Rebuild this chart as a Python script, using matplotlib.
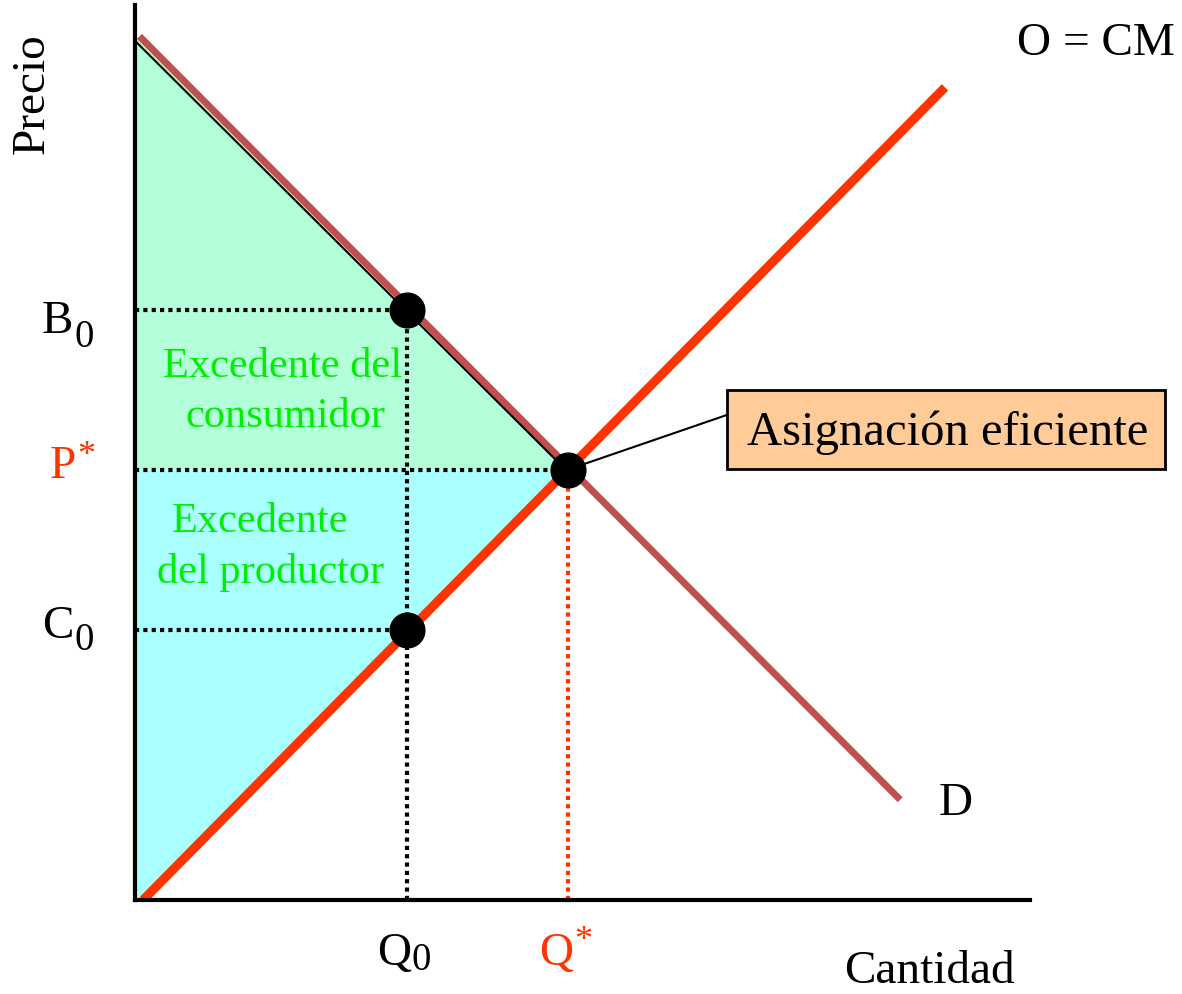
import matplotlib.pyplot as plt
from matplotlib.patches import Polygon, Rectangle

plt.rcParams['font.family'] = ['Liberation Serif', 'DejaVu Serif']

# curve endpoints (quantity, price) on a 0-100 scale
demand_q = [0.5, 85.5]
demand_p = [96.5, 11.2]
supply_q = [0.9, 90.5]
supply_p = [0.0, 90.8]

# key values
q0 = 30.4
q_star = 48.4
p_star = 48.1
b0 = 65.9
c0 = 30.2

red = '#FF3300'
brown = '#C0504D'
green_txt = '#00EE00'

fig = plt.figure(figsize=(11.82, 9.94), dpi=100)
ax = fig.add_axes([135 / 1182, 94 / 994, 895 / 1182, 895 / 994])
ax.set_xlim(0, 100)
ax.set_ylim(0, 100)
for s in ['top', 'right']:
    ax.spines[s].set_visible(False)
for s in ['left', 'bottom']:
    ax.spines[s].set_linewidth(3)
    ax.spines[s].set_zorder(10)
ax.set_xticks([])
ax.set_yticks([])

# surplus areas
cons = Polygon([(0, demand_p[0]), (q_star, p_star), (0, p_star)],
               closed=True, facecolor='#B3FFD9', edgecolor='none', zorder=1)
prod = Polygon([(0, p_star), (q_star, p_star), (supply_q[0], 0), (0, 0)],
               closed=True, facecolor='#AAFFFF', edgecolor='none', zorder=1)
ax.add_patch(prod)
ax.add_patch(cons)

# demand and supply
ax.plot(demand_q, demand_p, color=brown, lw=5, solid_capstyle='butt', zorder=2)
ax.plot([0, q_star], [demand_p[0] - 0.5, p_star - 0.3], color='black', lw=1.5, zorder=3)
ax.plot(supply_q, supply_p, color=red, lw=6.5, solid_capstyle='butt', zorder=4)

# guide lines
dot = (0, (1, 1))
ax.plot([0, q0], [b0, b0], color='black', lw=3, linestyle=dot, zorder=5)
ax.plot([0, q0], [c0, c0], color='black', lw=3, linestyle=dot, zorder=5)
ax.plot([0, q_star], [p_star, p_star], color='black', lw=3, linestyle=dot, zorder=5)
ax.plot([q0, q0], [0, b0], color='black', lw=3, linestyle=dot, zorder=5)
ax.plot([q_star, q_star], [0, p_star], color=red, lw=3, linestyle=dot, zorder=5)

# points
ax.plot([q0, q0, q_star], [b0, c0, p_star], 'o', color='black', markersize=25, zorder=6)

# axis labels
kw = dict(clip_on=False)
ax.text(-11.45, 90.1, 'Precio', fontsize=34, rotation=90, ha='center', va='center', **kw)
ax.text(88.8, -9.3, 'Cantidad', fontsize=34, ha='center', va='baseline', **kw)
ax.text(107.4, 94.4, 'O = CM', fontsize=34, ha='center', va='baseline', **kw)
ax.text(91.7, 9.5, 'D', fontsize=34, ha='center', va='baseline', **kw)


def label(x, y, main, small, dy, color='black', sup=False):
    ax.text(x, y, main, fontsize=34, color=color, ha='right', va='baseline', **kw)
    ax.text(x + 0.1, y + dy, small, fontsize=26 if sup else 28, color=color,
            ha='left', va='top' if sup else 'baseline', **kw)


label(-6.9, 63.35, 'B', '0', -1.55)
label(-6.9, 29.3, 'C', '0', -1.4)
label(-6.6, 47.15, 'P', '*', 4.3, color=red, sup=True)
label(30.8, -7.26, 'Q', '0', -0.55)
label(49.0, -7.26, 'Q', '*', 4.5, color=red, sup=True)

# surplus texts
gkw = dict(fontsize=30.5, color=green_txt, ha='center', va='baseline', zorder=7)
ax.text(16.5, 58.4, 'Excedente del', **gkw)
ax.text(16.8, 52.85, 'consumidor', **gkw)
ax.text(14.0, 41.1, 'Excedente', **gkw)
ax.text(15.2, 35.4, 'del productor', **gkw)

# efficient allocation callout
ax.plot([q_star, 66.15], [p_star, 54.2], color='black', lw=1.5, zorder=5, clip_on=False)
ax.add_patch(Rectangle((66.15, 48.16), 48.9, 8.82, facecolor='#FFCC99',
                       edgecolor='black', lw=2, zorder=7, clip_on=False))
ax.text(90.8, 50.8, 'Asignación eficiente', fontsize=35, ha='center', va='baseline',
        zorder=8, **kw)

fig.savefig('out.png', dpi=100)
